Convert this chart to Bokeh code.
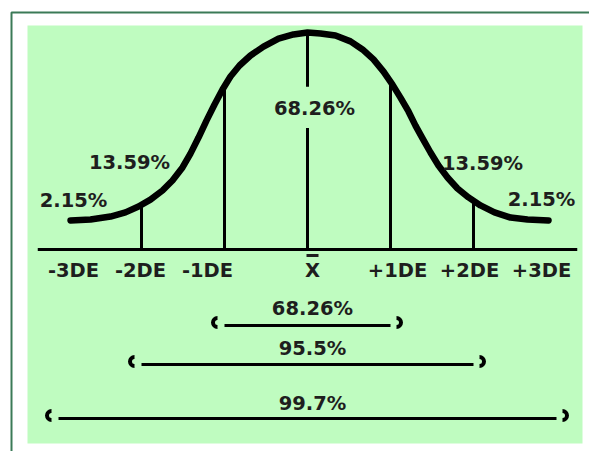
import numpy as np
from bokeh.plotting import figure
from bokeh.models import Range1d
from bokeh.core.properties import value
from bokeh.embed import file_html
from bokeh.resources import INLINE

# --- data ---------------------------------------------------------------
# bell curve traced in standard-deviation units (x) and height relative to the peak (y)
curve_x = [-2.855, -2.614, -2.373, -2.193, -2.036, -1.892, -1.747, -1.627, -1.506, -1.410,
           -1.313, -1.217, -1.120, -1.024, -0.928, -0.819, -0.687, -0.530, -0.349, -0.169,
           0.0, 0.157, 0.337, 0.518, 0.663, 0.795, 0.916, 1.024, 1.120, 1.217,
           1.301, 1.386, 1.482, 1.578, 1.687, 1.807, 1.940, 2.084, 2.253, 2.446,
           2.651, 2.904]
curve_y = [0.134, 0.138, 0.152, 0.171, 0.198, 0.230, 0.272, 0.318, 0.378, 0.442,
           0.516, 0.594, 0.668, 0.737, 0.797, 0.848, 0.894, 0.935, 0.972, 0.991,
           1.000, 0.995, 0.986, 0.959, 0.922, 0.876, 0.820, 0.760, 0.700, 0.636,
           0.571, 0.512, 0.447, 0.387, 0.332, 0.281, 0.240, 0.203, 0.171, 0.147,
           0.138, 0.134]

tick_pos = [-3, -2, -1, 0, 1, 2, 3]
tick_labels = ["-3DE", "-2DE", "-1DE", "X", "+1DE", "+2DE", "+3DE"]

divider_pos = [-2, -1, 1, 2]

area_labels = ["2.15%", "13.59%", "68.26%", "13.59%", "2.15%"]

range_sigmas = [1, 2, 3]
range_labels = ["68.26%", "95.5%", "99.7%"]

# --- canvas geometry (pixels -> data units) ----------------------------
W, H = 589, 451
X0, SX = 307.0, 83.0      # mean position and pixels per standard deviation
Y0, SY = 249.0, 217.0     # baseline position and pixels for the peak height


def dx(px):
    return (px - X0) / SX


def dy(py):
    return (Y0 - py) / SY


p = figure(width=W, height=H, output_backend="svg", toolbar_location=None,
           x_range=Range1d(dx(0), dx(W)), y_range=Range1d(dy(H), dy(0)),
           x_axis_type=None, y_axis_type=None, min_border=0)
p.grid.visible = False
p.outline_line_color = None
p.background_fill_color = "white"
p.border_fill_color = "white"

# frame and green panel
p.line([dx(11), dx(11), dx(W)], [dy(H), dy(12), dy(12)], line_color="#3B7A57", line_width=2)
p.quad(left=dx(27), right=dx(582), top=dy(25), bottom=dy(443),
       fill_color="#BFFCC0", line_color=None)

FONT = value("DejaVu Sans")
TXT = "#1e1e1e"
FS = "19.5px"

# baseline
p.line([-3.25, 3.25], [0, 0], line_color="black", line_width=3)

# dividers under the curve at +-1 and +-2 standard deviations
div_top = np.interp(divider_pos, curve_x, curve_y)
p.segment(x0=divider_pos, y0=[0] * len(divider_pos), x1=divider_pos, y1=div_top,
          line_color="black", line_width=3)

# mean line, interrupted by the central label
mean_label_y = dy(108)
p.segment(x0=[0, 0], y0=[0, mean_label_y + 0.1], x1=[0, 0], y1=[mean_label_y - 0.09, 1.0],
          line_color="black", line_width=3)

# the bell curve
p.line(curve_x, curve_y, line_color="black", line_width=6.5, line_join="round", line_cap="round")

# area percentages
area_x = [dx(73), dx(129), dx(314), dx(482), dx(541)]
area_y = [dy(200), dy(162), mean_label_y, dy(163), dy(199)]
p.text(x=area_x, y=area_y, text=area_labels, text_font=FONT, text_font_style="bold",
       text_font_size=FS, text_color=TXT, text_align="center", text_baseline="middle")

# tick labels below the baseline (hand-set nudges in screen pixels)
tick_nudge = [15, -1, -17, 5, 7, -4, -15]
p.text(x=tick_pos, y=[dy(270)] * len(tick_pos), text=tick_labels, x_offset=tick_nudge,
       text_font=FONT, text_font_style="bold", text_font_size=FS, text_color=TXT,
       text_align="center", text_baseline="middle")
# bar over the mean symbol
p.segment(x0=[tick_pos[3] + dx(X0 - 1)], y0=[dy(255)], x1=[tick_pos[3] + dx(X0 + 11)], y1=[dy(255)],
          line_color=TXT, line_width=3)

# coverage ranges
line_y = [dy(325), dy(364), dy(418)]
label_y = [dy(308), dy(348), dy(403)]
lefts = [-s for s in range_sigmas]
rights = list(range_sigmas)
p.segment(x0=lefts, y0=line_y, x1=rights, y1=line_y, line_color="black", line_width=3)
p.text(x=[0.06] * 3, y=label_y, text=range_labels, text_font=FONT, text_font_style="bold",
       text_font_size=FS, text_color=TXT, text_align="center", text_baseline="middle")

cap_y = [v + 3 / SY for v in line_y]
p.arc(x=[l - 7 / SX for l in lefts], y=cap_y, radius=4.5, radius_units="screen",
      start_angle=np.pi / 2, end_angle=3 * np.pi / 2, line_color="black", line_width=4)
p.arc(x=[r + 6 / SX for r in rights], y=cap_y, radius=4.5, radius_units="screen",
      start_angle=-np.pi / 2, end_angle=np.pi / 2, line_color="black", line_width=4)

open("out.html", "w").write(file_html(p, INLINE))
